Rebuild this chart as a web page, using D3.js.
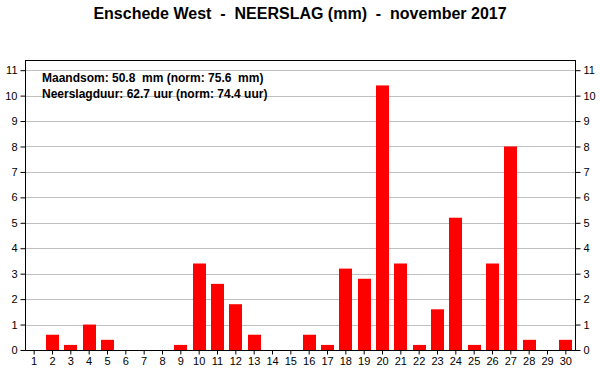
<!DOCTYPE html>
<html lang="nl">
<head>
<meta charset="UTF-8">
<title>Enschede West - Neerslag november 2017</title>
<script src="https://cdn.jsdelivr.net/npm/d3@7"></script>
<style>
    body { margin: 0; background: #fff; }
    svg text { font-family: "Liberation Sans", Arial, sans-serif; }
</style>
</head>
<body>
<div id="chart"></div>
<script>
    // dagen en neerslag (mm) per dag
    const days = d3.range(1, 31);
    const rain = [0, 0.6, 0.2, 1.0, 0.4, 0, 0, 0, 0.2, 3.4,
                  2.6, 1.8, 0.6, 0, 0, 0.6, 0.2, 3.2, 2.8, 10.4,
                  3.4, 0.2, 1.6, 5.2, 0.2, 3.4, 8.0, 0.4, 0, 0.4];
    const yTicks = d3.range(0, 12);
    const infoLines = ["Maandsom: 50.8  mm (norm: 75.6  mm)",
                       "Neerslagduur: 62.7 uur (norm: 74.4 uur)"];

    const width = 600, height = 390;
    const m = { left: 25, right: 575, top: 60, bottom: 350 };

    const svg = d3.select("#chart").append("svg")
        .attr("width", width)
        .attr("height", height);

    const x = d3.scaleBand()
        .domain(days)
        .range([m.left, m.right])
        .paddingInner(0.3)
        .paddingOuter(0.15);

    const y = d3.scaleLinear()
        .domain([0, 11.4])
        .range([m.bottom, m.top]);

    // gridlines
    svg.append("g")
        .selectAll("line")
        .data(yTicks.filter(d => d > 0))
        .join("line")
            .attr("x1", m.left).attr("x2", m.right)
            .attr("y1", d => Math.round(y(d)) + 0.5)
            .attr("y2", d => Math.round(y(d)) + 0.5)
            .attr("stroke", "#c0c0c0");

    // bars
    svg.append("g")
        .selectAll("rect")
        .data(rain)
        .join("rect")
            .attr("x", (d, i) => Math.round(x(days[i])))
            .attr("width", Math.round(x.bandwidth()))
            .attr("y", d => y(d))
            .attr("height", d => m.bottom - y(d))
            .attr("fill", "#ff0000");

    // frame
    svg.append("rect")
        .attr("x", m.left + 0.5).attr("y", m.top + 0.5)
        .attr("width", m.right - m.left).attr("height", m.bottom - m.top)
        .attr("fill", "none")
        .attr("stroke", "#000");

    const yLeft = d3.axisLeft(y).tickValues(yTicks).tickSize(5).tickPadding(3);
    const yRight = d3.axisRight(y).tickValues(yTicks).tickSize(5).tickPadding(3);
    const xAxis = d3.axisBottom(x).tickSize(4).tickPadding(3);

    function style(g) {
        g.select(".domain").remove();
        g.selectAll("text").attr("font-size", 11).attr("fill", "#000");
        g.selectAll("line").attr("stroke", "#000");
    }

    svg.append("g").attr("transform", `translate(${m.left + 0.5},0)`).call(yLeft).call(style);
    svg.append("g").attr("transform", `translate(${m.right + 0.5},0)`).call(yRight).call(style);
    svg.append("g").attr("transform", `translate(0,${m.bottom + 0.5})`).call(xAxis).call(style);

    // title
    svg.append("text")
        .attr("x", width / 2).attr("y", 19)
        .attr("text-anchor", "middle")
        .attr("font-size", 16)
        .attr("font-weight", "bold")
        .style("white-space", "pre")
        .text("Enschede West  -  NEERSLAG (mm)  -  november 2017");

    // info
    svg.append("g")
        .selectAll("text")
        .data(infoLines)
        .join("text")
            .attr("x", 42)
            .attr("y", (d, i) => 82 + i * 16)
            .attr("font-size", 12)
            .attr("font-weight", "bold")
            .style("white-space", "pre")
            .text(d => d);
</script>
</body>
</html>
